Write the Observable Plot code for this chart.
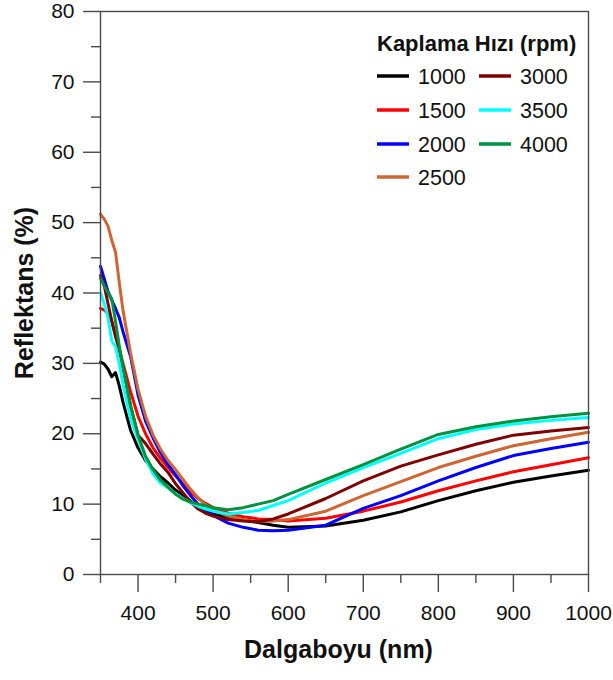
<!DOCTYPE html>
<html>
<head>
<meta charset="utf-8">
<script src="https://cdn.jsdelivr.net/npm/d3@7"></script>
<script src="https://cdn.jsdelivr.net/npm/@observablehq/plot@0.6"></script>
<style>
  html, body { margin: 0; padding: 0; background: #fff; }
  #chart svg { display: block; }
</style>
</head>
<body>
<div id="chart"></div>
<script>
// ---- data ----
const wavelengths = [350,355,360,365,370,375,380,390,400,410,420,430,440,450,460,470,480,490,500,520,540,560,580,600,650,700,750,800,850,900,950,1000];

const seriesNames = ["1000","1500","2000","2500","3000","3500","4000"];
const seriesColors = ["#000000","#ff0000","#0000ff","#cc6633","#800000","#00ffff","#00923f"];

const r1000 = [30.2,29.9,29.2,28.1,28.7,26.8,24.5,20.5,18.0,16.2,15.0,13.9,13.0,12.0,11.2,10.4,9.7,9.1,8.6,8.1,7.7,7.4,7.0,6.7,6.9,7.7,8.9,10.5,11.9,13.1,14.0,14.8];
const r1500 = [37.8,37.6,37.0,36.0,34.0,32.0,30.0,26.0,22.5,20.0,18.0,16.5,15.2,14.0,12.9,11.7,10.8,10.1,9.5,8.7,8.2,7.9,7.8,7.6,8.0,9.0,10.3,11.9,13.3,14.6,15.6,16.6];
const r2000 = [43.8,42.0,40.2,39.0,37.8,36.5,34.5,31.0,25.5,21.8,19.4,17.3,15.6,14.2,12.6,11.2,10.0,9.2,8.4,7.3,6.7,6.3,6.2,6.3,7.0,9.4,11.2,13.3,15.2,16.9,17.9,18.8];
const r2500 = [51.2,50.5,49.5,47.5,45.8,41.5,37.5,31.5,26.3,22.5,19.8,17.8,16.2,14.9,13.5,12.1,10.9,9.9,9.2,8.3,7.8,7.5,7.6,7.8,9.0,11.2,13.2,15.2,16.8,18.3,19.3,20.2];
const r3000 = [42.5,41.0,38.5,36.0,33.8,32.0,29.5,24.0,19.8,18.6,17.1,15.7,14.5,12.9,11.6,10.3,9.3,8.7,8.3,7.8,7.6,7.5,7.9,8.6,10.8,13.3,15.4,17.0,18.5,19.8,20.4,20.9];
const r3500 = [40.0,38.5,36.5,33.2,32.4,30.0,27.0,22.2,19.2,16.4,14.3,13.0,12.3,11.5,10.8,10.2,9.7,9.3,9.0,8.6,8.8,9.1,9.8,10.5,13.0,15.2,17.2,19.3,20.6,21.4,21.9,22.3];
const r4000 = [42.1,41.0,40.0,39.2,36.0,32.5,29.5,24.0,19.8,16.8,14.9,13.4,12.4,11.4,10.7,10.3,10.0,9.8,9.5,9.2,9.5,10.0,10.5,11.4,13.5,15.6,17.8,19.9,21.0,21.8,22.4,22.9];

const yMajor = [0,10,20,30,40,50,60,70,80];
const yMinor = [5,15,25,35,45,55,65,75];
const xMajor = [400,500,600,700,800,900,1000];
const xMinor = [350,450,550,650,750,850,950];

const xTitle = "Dalgaboyu (nm)";
const yTitle = "Reflektans (%)";
const legendTitle = "Kaplama Hızı (rpm)";

// ---- build table ----
const allValues = [r1000, r1500, r2000, r2500, r3000, r3500, r4000];
const rows = seriesNames.flatMap((s, i) =>
  wavelengths.map((w, j) => ({w, r: allValues[i][j], s}))
);

const FONT = "'Liberation Sans', Arial, sans-serif";
const axisColor = "#4a4a4a";
const plain = d3.format("d");

const chart = Plot.plot({
  width: 613,
  height: 680,
  marginLeft: 100,
  marginRight: 25,
  marginTop: 11,
  marginBottom: 106,
  style: {fontFamily: FONT, background: "#fff", color: "#111"},
  x: {domain: [350, 1000]},
  y: {domain: [0, 80]},
  color: {domain: seriesNames, range: seriesColors},
  marks: [
    Plot.axisY({ticks: yMajor, tickSize: 17, tickPadding: 9, fontSize: 21, label: null, stroke: axisColor, strokeWidth: 1.4, tickFormat: plain}),
    Plot.axisY({ticks: yMinor, tickSize: 9, label: null, stroke: axisColor, strokeWidth: 1.4, tickFormat: () => ""}),
    Plot.axisX({ticks: xMajor, tickSize: 18, tickPadding: 13, fontSize: 21, label: null, stroke: axisColor, strokeWidth: 1.4, tickFormat: plain}),
    Plot.axisX({ticks: xMinor, tickSize: 9, label: null, stroke: axisColor, strokeWidth: 1.4, tickFormat: () => ""}),
    Plot.line(rows, {x: "w", y: "r", z: "s", stroke: "s", strokeWidth: 3, strokeLinejoin: "round"}),
    Plot.frame({stroke: axisColor, strokeWidth: 1.4}),
    Plot.text([yTitle], {frameAnchor: "left", dx: -76, rotate: -90, text: d => d, fontSize: 25, fontWeight: "bold", fill: "#111", textAnchor: "middle"}),
    Plot.text([xTitle], {frameAnchor: "bottom", dx: -6, dy: 83, text: d => d, fontSize: 25, fontWeight: "bold", fill: "#111", textAnchor: "middle"})
  ]
});

document.getElementById("chart").appendChild(chart);

// ---- legend (inside the svg) ----
const svg = d3.select(chart);
const lg = svg.append("g").attr("font-family", FONT).attr("text-anchor", "start");
lg.append("text")
  .attr("x", 377).attr("y", 51)
  .attr("text-anchor", "start")
  .attr("font-size", 22).attr("font-weight", "bold").attr("fill", "#111")
  .text(legendTitle);
const rowY = [76, 110, 144, 177];
seriesNames.forEach((s, i) => {
  const col = i < 4 ? 0 : 1;
  const row = i < 4 ? i : i - 4;
  const x0 = col === 0 ? 377 : 479;
  const y = rowY[row];
  lg.append("line")
    .attr("x1", x0).attr("x2", x0 + 32)
    .attr("y1", y).attr("y2", y)
    .attr("stroke", seriesColors[i]).attr("stroke-width", 3.5);
  lg.append("text")
    .attr("x", x0 + 41).attr("y", y)
    .attr("dy", "0.36em")
    .attr("text-anchor", "start")
    .attr("font-size", 21.5).attr("fill", "#111")
    .text(s);
});
</script>
</body>
</html>
